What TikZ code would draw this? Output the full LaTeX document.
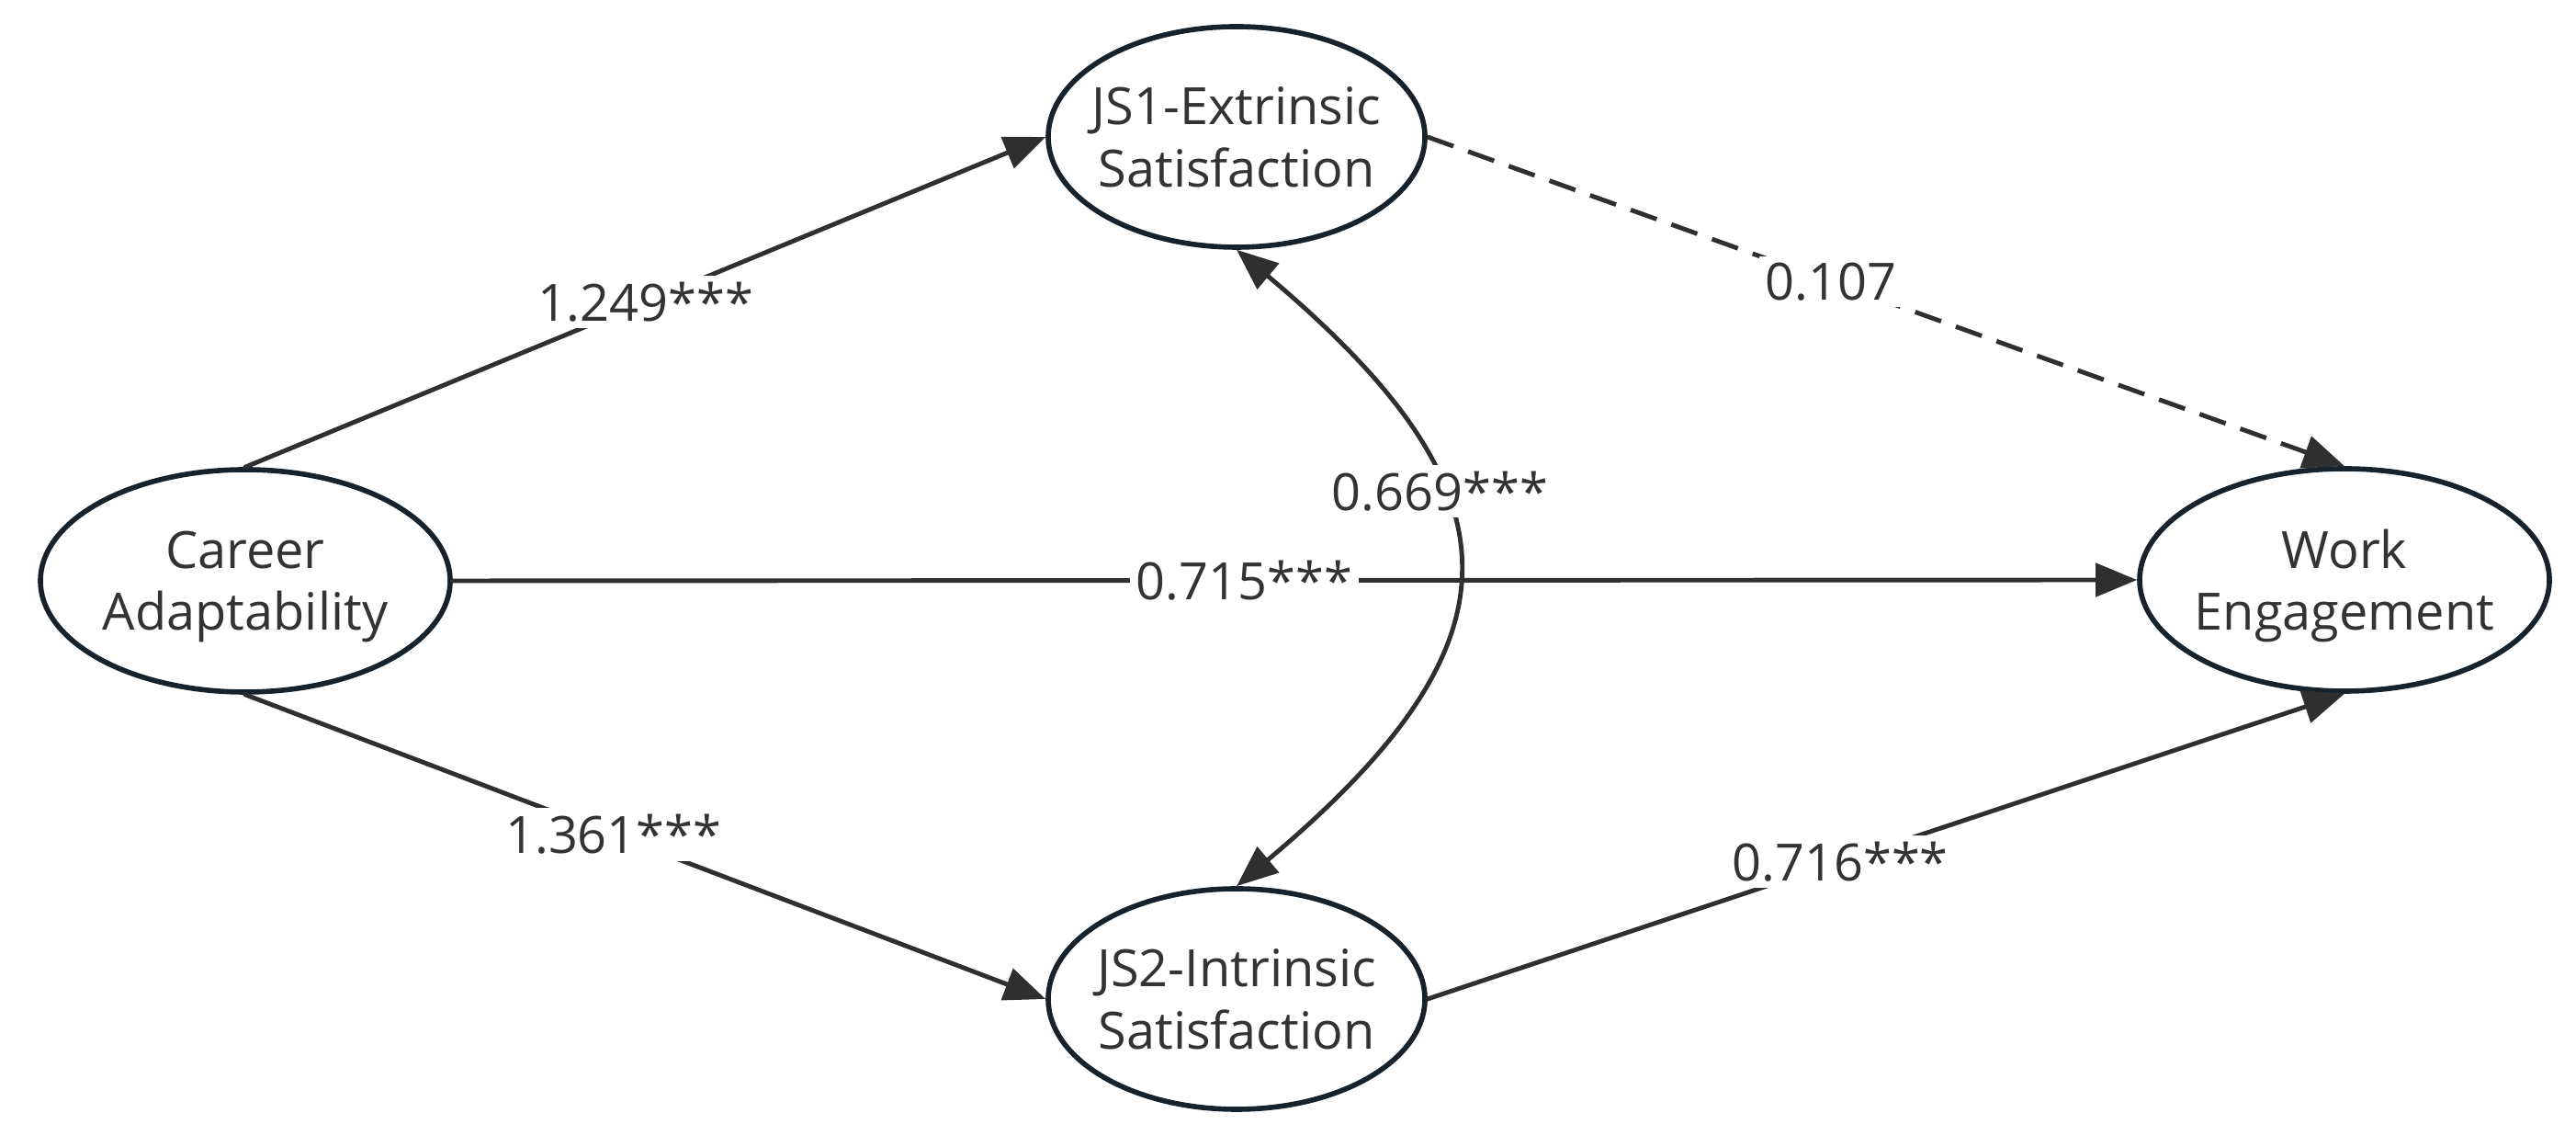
\documentclass[tikz,border=0pt]{standalone}
\usepackage{fontspec}
\setmainfont{Open Sans}
\usepackage{xcolor}
\usepackage{tikz}
\usetikzlibrary{arrows.meta,shapes.geometric,positioning,calc}
\definecolor{inkline}{HTML}{2F2F2F}
\definecolor{inkborder}{HTML}{16232C}
\definecolor{inktext}{HTML}{333333}
\newcommand{\modelfont}{\fontsize{15.9}{19.1}\selectfont}
\tikzset{%
      latent/.style = { ellipse, draw=inkborder, line width=1.6pt, fill=white, inner xsep=-0.3cm, inner ysep=0pt, text depth=0pt, align=center, text=inktext, font=\modelfont },
     outerlv/.style = { latent, minimum width=4.46cm, minimum height=2.42cm },
     innerlv/.style = { latent, minimum width=4.10cm, minimum height=2.40cm },
      effect/.style = { ->, draw=inkline, line width=1.4pt },
    estimate/.style = { fill=white, inner sep=2pt, text=inktext, font=\modelfont },
      nonsig/.style = { line cap=butt, dash pattern=on 3mm off 1.7mm }
}

\begin{document}
\begin{tikzpicture}[line cap=round,line join=round,>={Triangle[length=4.5mm,width=3.6mm]},x=1.0cm,y=1.0cm]
\useasboundingbox (0,0) rectangle (28.04,12.48);
% latent variables
\node[outerlv] (CA)  at (2.67,6.16)   {Career\\Adaptability};
\node[innerlv] (JS1) at (13.46,10.99) {JS1-Extrinsic\\Satisfaction};
\node[innerlv] (JS2) at (13.46,1.61)  {JS2-Intrinsic\\Satisfaction};
\node[outerlv] (WE)  at (25.52,6.17)  {Work\\Engagement};
% paths
\draw[effect] (CA.north) -- node[estimate,pos=0.5]  {1.249***} (JS1.west);
\draw[effect] (CA.south) -- node[estimate,pos=0.46] {1.361***} (JS2.west);
\draw[effect] (CA.east)  -- node[estimate,pos=0.47] {0.715***} (WE.west);
\draw[effect,nonsig] (JS1.east) -- node[estimate,pos=0.44] {0.107} (WE.north);
\draw[effect] (JS2.east) -- node[estimate,pos=0.45] {0.716***} (WE.south);
%\draw[effect,<->] (JS1.south) to[bend left=60] (JS2.north);
\draw[effect,<->] (JS1.south) to[out=-40,in=40,looseness=1.53]
      node[estimate,pos=0.37] {0.669***} (JS2.north);
\end{tikzpicture}
\end{document}
